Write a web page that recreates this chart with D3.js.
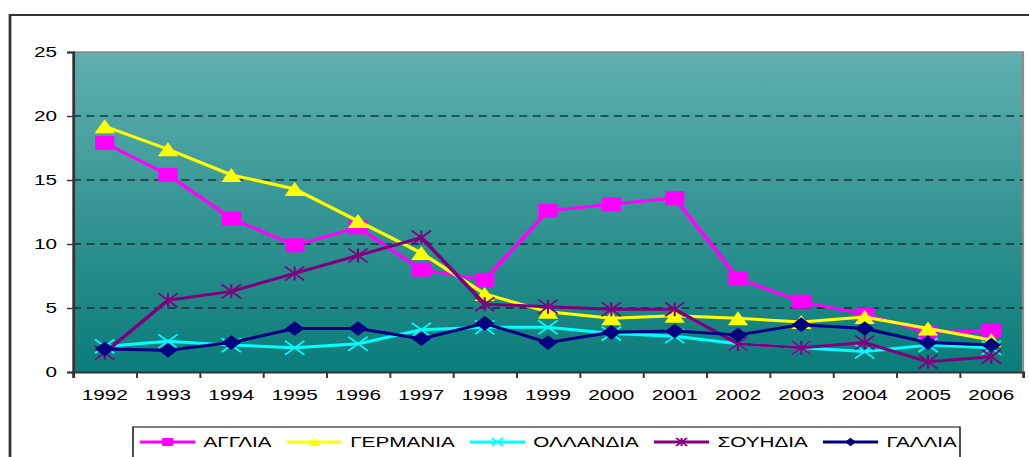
<!DOCTYPE html>
<html>
<head>
<meta charset="utf-8">
<script src="https://cdn.jsdelivr.net/npm/d3@7"></script>
<style>
  body { margin: 0; background: #fff; }
  svg { display: block; }
  text { font-family: 'Liberation Sans', Arial, sans-serif; font-size: 15px; fill: #000; }
</style>
</head>
<body>
<div id="chart"></div>
<script>
const years = ['1992', '1993', '1994', '1995', '1996', '1997', '1998', '1999', '2000', '2001', '2002', '2003', '2004', '2005', '2006']
const yTicks = [0, 5, 10, 15, 20, 25]

const anglia = [17.9, 15.4, 12.0, 9.9, 11.3, 8.0, 7.2, 12.6, 13.1, 13.6, 7.3, 5.5, 4.5, 3.1, 3.2]
const germania = [19.2, 17.4, 15.4, 14.3, 11.8, 9.3, 6.1, 4.7, 4.2, 4.4, 4.2, 3.9, 4.3, 3.4, 2.5]
const ollandia = [2.0, 2.4, 2.1, 1.9, 2.2, 3.3, 3.5, 3.5, 3.0, 2.8, 2.2, 1.9, 1.6, 2.1, 1.9]
const souidia = [1.5, 5.6, 6.3, 7.7, 9.1, 10.5, 5.3, 5.1, 4.9, 4.9, 2.2, 1.9, 2.3, 0.8, 1.2]
const gallia = [1.8, 1.7, 2.3, 3.4, 3.4, 2.6, 3.8, 2.3, 3.1, 3.2, 2.9, 3.7, 3.4, 2.3, 2.1]

const series = [
  { name: 'ΑΓΓΛΙΑ', values: anglia, color: '#ff00ff', marker: 'square' },
  { name: 'ΓΕΡΜΑΝΙΑ', values: germania, color: '#ffff00', marker: 'triangle' },
  { name: 'ΟΛΛΑΝΔΙΑ', values: ollandia, color: '#00ffff', marker: 'x' },
  { name: 'ΣΟΥΗΔΙΑ', values: souidia, color: '#800080', marker: 'star' },
  { name: 'ΓΑΛΛΙΑ', values: gallia, color: '#000080', marker: 'diamond' },
]

// the original picture is stretched sideways, so draw in narrower units and let the viewBox stretch it
const SX = 1.38
const width = 1029
const height = 457
const W = width / SX
const X = px => px / SX

const plot = { left: X(73), right: X(1023), top: 52, bottom: 372 }

const svg = d3.select('#chart').append('svg')
  .attr('width', width)
  .attr('height', height)
  .attr('viewBox', `0 0 ${W} ${height}`)
  .attr('preserveAspectRatio', 'none')

const grad = svg.append('defs').append('linearGradient')
  .attr('id', 'bg').attr('x1', 0).attr('y1', 0).attr('x2', 0).attr('y2', 1)
grad.append('stop').attr('offset', '0%').attr('stop-color', '#60afaf')
grad.append('stop').attr('offset', '100%').attr('stop-color', '#0a7c7a')

// outer chart frame (runs past the right and bottom edge)
svg.append('rect')
  .attr('x', X(10)).attr('y', 15)
  .attr('width', W).attr('height', 500)
  .attr('fill', '#fff').attr('stroke', '#333').attr('stroke-width', 2)

const x = d3.scaleBand().domain(years).range([plot.left, plot.right])
const xEdge = d3.scaleLinear().domain([0, years.length]).range([plot.left, plot.right])
const y = d3.scaleLinear().domain([0, 25]).range([plot.bottom, plot.top])

svg.append('rect')
  .attr('x', plot.left).attr('y', plot.top)
  .attr('width', plot.right - plot.left).attr('height', plot.bottom - plot.top)
  .attr('fill', 'url(#bg)')

// top and right border of plot area
svg.append('path')
  .attr('d', `M${plot.left},${plot.top}H${plot.right}V${plot.bottom}`)
  .attr('fill', 'none').attr('stroke', '#8c8c8c').attr('stroke-width', 1.6)

// dashed grid
svg.append('g')
  .selectAll('line')
  .data(yTicks.filter(d => d > 0 && d < 25))
  .join('line')
  .attr('x1', plot.left).attr('x2', plot.right)
  .attr('y1', d => y(d)).attr('y2', d => y(d))
  .attr('stroke', '#000').attr('stroke-width', 1)
  .attr('stroke-dasharray', '5.8,4')

// y axis
const yAxis = svg.append('g')
  .attr('transform', `translate(${plot.left},0)`)
  .call(d3.axisLeft(y).tickValues(yTicks).tickSize(X(6)).tickPadding(X(10)))
yAxis.select('.domain').attr('stroke', '#333').attr('stroke-width', 2)
yAxis.selectAll('.tick line').attr('stroke', '#333').attr('stroke-width', 1.4)
yAxis.selectAll('text').attr('font-size', 15).attr('fill', '#000')
  .attr('font-family', "'Liberation Sans', Arial, sans-serif")

// x axis: ticks on the category edges, labels in the middle
const xTicks = svg.append('g')
  .attr('transform', `translate(0,${plot.bottom})`)
  .call(d3.axisBottom(xEdge).tickValues(d3.range(years.length + 1)).tickSize(6).tickFormat(''))
xTicks.select('.domain').attr('stroke', '#333').attr('stroke-width', 2)
xTicks.selectAll('.tick line').attr('stroke', '#333').attr('stroke-width', 1.4)

const xLabels = svg.append('g')
  .attr('transform', `translate(0,${plot.bottom})`)
  .call(d3.axisBottom(x).tickSize(0).tickPadding(17))
xLabels.select('.domain').remove()
xLabels.selectAll('text').attr('font-size', 15).attr('fill', '#000')
  .attr('font-family', "'Liberation Sans', Arial, sans-serif")

const drawMarker = (g, type, color, s) => {
  const h = s / 2
  if (type === 'square') {
    g.append('rect').attr('x', -h).attr('y', -h).attr('width', s).attr('height', s).attr('fill', color)
  } else if (type === 'triangle') {
    g.append('path').attr('d', `M0,${-h}L${h * 1.05},${h}L${-h * 1.05},${h}Z`).attr('fill', color)
  } else if (type === 'diamond') {
    g.append('path').attr('d', `M0,${-h * 1.05}L${h},0L0,${h * 1.05}L${-h},0Z`).attr('fill', color)
  } else if (type === 'x') {
    g.append('path').attr('d', `M${-h},${-h}L${h},${h}M${h},${-h}L${-h},${h}`)
      .attr('stroke', color).attr('stroke-width', 1.5).attr('fill', 'none')
  } else if (type === 'star') {
    g.append('path').attr('d', `M${-h},${-h}L${h},${h}M${h},${-h}L${-h},${h}M0,${-h}V${h}`)
      .attr('stroke', color).attr('stroke-width', 1.5).attr('fill', 'none')
  }
}

const line = d3.line()
  .x((d, i) => x(years[i]) + x.bandwidth() / 2)
  .y(d => y(d))

series.forEach(s => {
  const g = svg.append('g')
  g.append('path')
    .datum(s.values)
    .attr('d', line)
    .attr('fill', 'none')
    .attr('stroke', s.color)
    .attr('stroke-width', 3)
    .attr('stroke-linejoin', 'round')
  g.selectAll('.mk')
    .data(s.values)
    .join('g')
    .attr('class', 'mk')
    .attr('transform', (d, i) => `translate(${x(years[i]) + x.bandwidth() / 2},${y(d)})`)
    .each(function () { drawMarker(d3.select(this), s.marker, s.color, 14) })
})

// legend
svg.append('rect')
  .attr('x', X(133)).attr('y', 427)
  .attr('width', X(960) - X(133)).attr('height', 60)
  .attr('fill', '#fff').attr('stroke', '#000').attr('stroke-width', 1)

let lx = X(140)
const ly = 442
series.forEach(s => {
  const g = svg.append('g')
  g.append('line')
    .attr('x1', lx).attr('x2', lx + 40)
    .attr('y1', ly).attr('y2', ly)
    .attr('stroke', s.color).attr('stroke-width', 3)
  const m = g.append('g').attr('transform', `translate(${lx + 20},${ly})`)
  drawMarker(m, s.marker, s.color, 8)
  const t = g.append('text')
    .attr('x', lx + 46).attr('y', 447.5)
    .text(s.name)
  lx += 46 + t.node().getComputedTextLength() + 11
})
</script>
</body>
</html>
